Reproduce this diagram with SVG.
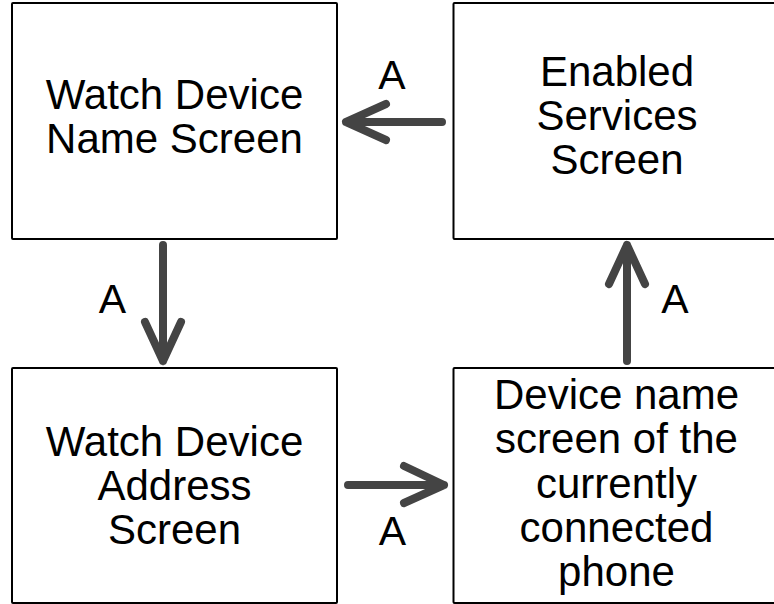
<svg xmlns="http://www.w3.org/2000/svg" width="774" height="604" viewBox="0 0 774 604">
<style>
.box{fill:#fff;stroke:#000;stroke-width:2}
.t{font-family:"Liberation Sans",Arial,sans-serif;font-size:42px;fill:#000;text-anchor:middle}
.lbl{font-family:"Liberation Sans",Arial,sans-serif;font-size:41px;fill:#000;text-anchor:middle}
.c{fill:none;stroke:#444;stroke-width:8;stroke-linecap:round;stroke-linejoin:round}
</style>
<rect width="774" height="604" fill="#fff"/>
<g id="watch-name">
<rect class="box" x="12" y="3" width="325" height="236" rx="1"/>
<text class="t" x="174.5" y="109">Watch Device</text>
<text class="t" x="174.5" y="153">Name Screen</text>
</g>
<g id="enabled-services">
<rect class="box" x="453.5" y="3" width="340" height="236" rx="1"/>
<text class="t" x="617" y="86">Enabled</text>
<text class="t" x="617" y="130">Services</text>
<text class="t" x="617" y="174">Screen</text>
</g>
<g id="watch-address">
<rect class="box" x="12" y="368" width="325" height="235" rx="1"/>
<text class="t" x="174.5" y="456">Watch Device</text>
<text class="t" x="174.5" y="500">Address</text>
<text class="t" x="174.5" y="544">Screen</text>
</g>
<g id="phone-name">
<rect class="box" x="453.5" y="368" width="340" height="235" rx="1"/>
<text class="t" x="616.5" y="408.5">Device name</text>
<text class="t" x="616.5" y="453">screen of the</text>
<text class="t" x="616.5" y="497.5">currently</text>
<text class="t" x="616.5" y="542">connected</text>
<text class="t" x="616.5" y="586">phone</text>
</g>
<g id="connectors">
<path class="c" d="M442,122 H346 M386,104 L346,122 L386,140"/>
<path class="c" d="M163,245 V361 M145,322 L163,361 L181,322"/>
<path class="c" d="M348,485 H444 M404,466 L444,485 L404,503"/>
<path class="c" d="M627,361 V245 M609,284 L627,245 L645,284"/>
<text class="lbl" x="392" y="89">A</text>
<text class="lbl" x="112.5" y="313">A</text>
<text class="lbl" x="392.5" y="545">A</text>
<text class="lbl" x="675" y="313">A</text>
</g>
</svg>
